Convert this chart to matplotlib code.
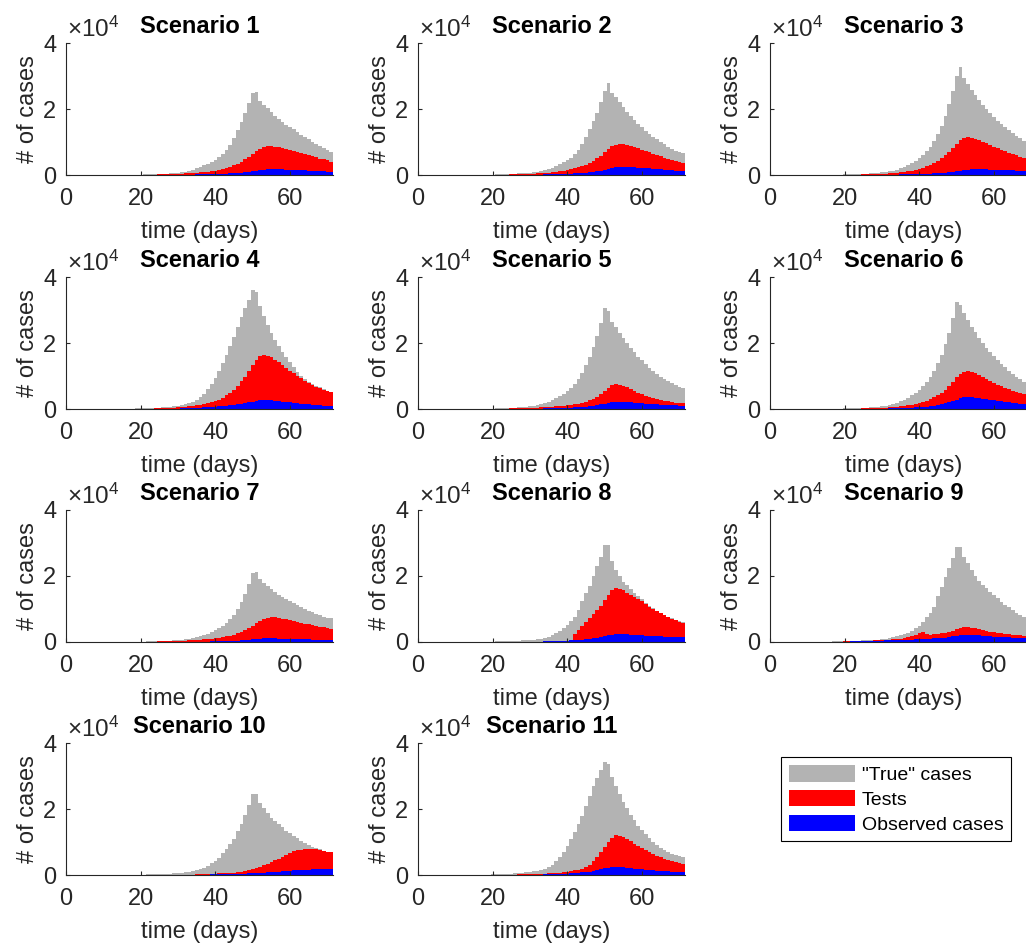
import matplotlib.pyplot as plt
from matplotlib.patches import Patch

# daily counts per scenario, in thousands of cases (axis shows x10^4)
days = list(range(1, 72))

true_1 = [0.01, 0.01, 0.01, 0.02, 0.02, 0.02, 0.03, 0.03, 0.03, 0.04,
          0.04, 0.05, 0.05, 0.06, 0.07, 0.08, 0.09, 0.10, 0.12, 0.14,
          0.17, 0.20, 0.23, 0.27, 0.32, 0.37, 0.43, 0.50, 0.60, 0.70,
          0.85, 1.00, 1.30, 1.60, 2.00, 2.40, 2.90, 3.40, 3.90, 4.60,
          5.40, 6.40, 7.60, 9.20, 11.2, 13.5, 16.0, 18.7, 21.8, 25.0,
          25.3, 22.5, 21.2, 20.2, 19.2, 18.0, 16.9, 16.0, 15.3, 14.6,
          13.8, 12.9, 12.1, 11.4, 10.8, 10.1, 9.40, 8.80, 8.10, 7.60,
          7.10]
tests_1 = [0.01, 0.01, 0.01, 0.01, 0.01, 0.01, 0.02, 0.02, 0.02, 0.02,
           0.03, 0.03, 0.03, 0.04, 0.04, 0.05, 0.05, 0.06, 0.07, 0.08,
           0.09, 0.10, 0.12, 0.14, 0.16, 0.19, 0.22, 0.26, 0.30, 0.35,
           0.41, 0.48, 0.55, 0.62, 0.70, 0.80, 0.90, 1.00, 1.15, 1.35,
           1.60, 1.85, 2.15, 2.50, 2.90, 3.40, 4.00, 4.70, 5.50, 6.40,
           7.30, 8.00, 8.50, 8.70, 8.70, 8.60, 8.40, 8.10, 7.80, 7.50,
           7.20, 6.90, 6.60, 6.30, 6.00, 5.70, 5.40, 5.00, 4.70, 4.40,
           4.00]
obs_1 = [0.00, 0.00, 0.00, 0.00, 0.01, 0.01, 0.01, 0.01, 0.01, 0.01,
         0.01, 0.01, 0.01, 0.01, 0.02, 0.02, 0.02, 0.02, 0.02, 0.03,
         0.03, 0.03, 0.04, 0.04, 0.05, 0.05, 0.06, 0.07, 0.08, 0.09,
         0.10, 0.11, 0.13, 0.14, 0.16, 0.18, 0.20, 0.23, 0.26, 0.30,
         0.34, 0.38, 0.43, 0.49, 0.56, 0.64, 0.74, 0.86, 1.00, 1.16,
         1.32, 1.50, 1.65, 1.75, 1.80, 1.78, 1.74, 1.70, 1.65, 1.60,
         1.55, 1.50, 1.45, 1.40, 1.35, 1.30, 1.24, 1.18, 1.12, 1.06,
         1.00]

true_2 = [0.01, 0.01, 0.01, 0.02, 0.02, 0.02, 0.03, 0.03, 0.04, 0.04,
          0.05, 0.05, 0.06, 0.07, 0.08, 0.09, 0.10, 0.11, 0.13, 0.15,
          0.18, 0.21, 0.25, 0.29, 0.34, 0.40, 0.46, 0.54, 0.63, 0.74,
          0.88, 1.03, 1.25, 1.50, 1.85, 2.25, 2.70, 3.20, 3.80, 4.50,
          5.30, 6.30, 7.50, 9.50, 11.6, 14.0, 16.4, 18.8, 22.0, 25.5,
          27.9, 25.0, 23.6, 22.0, 20.5, 19.2, 18.0, 16.8, 15.6, 14.4,
          13.4, 12.4, 11.6, 10.8, 10.0, 9.30, 8.60, 8.00, 7.40, 7.00,
          6.60]
tests_2 = [0.01, 0.01, 0.01, 0.01, 0.01, 0.01, 0.02, 0.02, 0.02, 0.02,
           0.03, 0.03, 0.03, 0.04, 0.04, 0.05, 0.05, 0.06, 0.07, 0.08,
           0.09, 0.10, 0.12, 0.14, 0.16, 0.19, 0.22, 0.26, 0.30, 0.36,
           0.43, 0.50, 0.58, 0.66, 0.75, 0.86, 0.97, 1.08, 1.24, 1.46,
           1.73, 2.00, 2.30, 2.70, 3.10, 3.70, 4.30, 5.10, 5.90, 6.90,
           7.90, 8.70, 9.20, 9.40, 9.40, 9.20, 8.90, 8.50, 8.10, 7.70,
           7.30, 6.90, 6.50, 6.10, 5.70, 5.30, 4.90, 4.60, 4.30, 3.90,
           3.60]
obs_2 = [0.00, 0.00, 0.00, 0.00, 0.01, 0.01, 0.01, 0.01, 0.01, 0.01,
         0.01, 0.01, 0.01, 0.01, 0.02, 0.02, 0.02, 0.02, 0.02, 0.03,
         0.03, 0.03, 0.04, 0.04, 0.05, 0.05, 0.06, 0.07, 0.08, 0.09,
         0.11, 0.13, 0.15, 0.17, 0.19, 0.22, 0.25, 0.29, 0.33, 0.38,
         0.43, 0.49, 0.56, 0.64, 0.74, 0.86, 1.00, 1.16, 1.35, 1.56,
         1.80, 2.05, 2.30, 2.45, 2.50, 2.46, 2.40, 2.33, 2.25, 2.16,
         2.07, 1.98, 1.89, 1.80, 1.71, 1.62, 1.53, 1.44, 1.36, 1.28,
         1.20]

true_3 = [0.01, 0.01, 0.01, 0.02, 0.02, 0.03, 0.03, 0.03, 0.04, 0.04,
          0.05, 0.06, 0.06, 0.07, 0.08, 0.09, 0.11, 0.12, 0.14, 0.16,
          0.19, 0.22, 0.26, 0.31, 0.36, 0.42, 0.49, 0.57, 0.67, 0.79,
          0.94, 1.12, 1.35, 1.65, 2.00, 2.45, 2.95, 3.55, 4.30, 5.20,
          6.10, 7.20, 8.50, 10.2, 12.4, 15.0, 18.0, 21.5, 25.5, 30.0,
          32.8, 29.5, 27.6, 25.8, 24.2, 22.6, 21.2, 19.9, 18.7, 17.5,
          16.4, 15.4, 14.4, 13.5, 12.7, 11.9, 11.1, 10.4, 9.80, 9.20,
          8.70]
tests_3 = [0.01, 0.01, 0.01, 0.01, 0.01, 0.01, 0.02, 0.02, 0.02, 0.02,
           0.03, 0.03, 0.03, 0.04, 0.04, 0.05, 0.05, 0.06, 0.07, 0.08,
           0.09, 0.10, 0.12, 0.14, 0.16, 0.19, 0.22, 0.26, 0.30, 0.35,
           0.42, 0.50, 0.58, 0.68, 0.80, 0.95, 1.10, 1.30, 1.55, 1.85,
           2.20, 2.60, 3.10, 3.60, 4.30, 5.10, 6.00, 7.10, 8.30, 9.50,
           10.5, 11.1, 11.4, 11.3, 11.0, 10.6, 10.1, 9.60, 9.10, 8.60,
           8.10, 7.60, 7.20, 6.80, 6.40, 6.00, 5.60, 5.20, 4.90, 4.60,
           4.30]
obs_3 = [0.00, 0.00, 0.00, 0.00, 0.01, 0.01, 0.01, 0.01, 0.01, 0.01,
         0.01, 0.01, 0.01, 0.01, 0.02, 0.02, 0.02, 0.02, 0.02, 0.03,
         0.03, 0.03, 0.04, 0.04, 0.05, 0.05, 0.06, 0.07, 0.08, 0.09,
         0.10, 0.11, 0.12, 0.14, 0.16, 0.18, 0.20, 0.22, 0.25, 0.28,
         0.32, 0.36, 0.41, 0.47, 0.54, 0.62, 0.72, 0.84, 0.98, 1.14,
         1.30, 1.48, 1.62, 1.72, 1.76, 1.75, 1.72, 1.68, 1.64, 1.60,
         1.56, 1.52, 1.48, 1.44, 1.40, 1.36, 1.32, 1.28, 1.24, 1.20,
         1.16]

true_4 = [0.01, 0.01, 0.01, 0.02, 0.02, 0.02, 0.03, 0.03, 0.04, 0.04,
          0.05, 0.06, 0.07, 0.08, 0.09, 0.10, 0.12, 0.14, 0.16, 0.19,
          0.22, 0.26, 0.30, 0.35, 0.41, 0.48, 0.60, 0.70, 0.85, 1.00,
          1.20, 1.45, 1.70, 2.10, 2.70, 3.50, 4.60, 6.00, 7.60, 9.50,
          11.6, 13.9, 16.4, 19.0, 21.9, 24.9, 28.0, 30.5, 33.0, 36.2,
          35.4, 31.1, 28.1, 25.5, 23.0, 21.0, 19.1, 17.4, 15.7, 14.1,
          12.7, 11.3, 10.0, 9.00, 8.20, 7.60, 7.00, 6.60, 6.10, 5.60,
          5.20]
tests_4 = [0.01, 0.01, 0.01, 0.01, 0.01, 0.01, 0.02, 0.02, 0.02, 0.02,
           0.03, 0.03, 0.03, 0.04, 0.04, 0.05, 0.05, 0.06, 0.07, 0.08,
           0.10, 0.12, 0.14, 0.17, 0.20, 0.24, 0.29, 0.35, 0.42, 0.50,
           0.58, 0.68, 0.80, 0.93, 1.08, 1.25, 1.45, 1.70, 2.00, 2.40,
           2.85, 3.40, 4.10, 4.90, 5.80, 7.00, 8.40, 9.80, 11.5, 13.4,
           14.9, 16.0, 16.4, 16.2, 15.7, 14.9, 14.1, 13.2, 12.4, 11.6,
           10.8, 10.0, 9.30, 8.60, 7.90, 7.30, 6.80, 6.30, 5.90, 5.50,
           5.10]
obs_4 = [0.00, 0.00, 0.00, 0.01, 0.01, 0.01, 0.01, 0.01, 0.01, 0.01,
         0.01, 0.02, 0.02, 0.02, 0.02, 0.03, 0.03, 0.03, 0.04, 0.04,
         0.05, 0.05, 0.06, 0.07, 0.08, 0.09, 0.10, 0.12, 0.13, 0.15,
         0.18, 0.21, 0.25, 0.29, 0.34, 0.40, 0.46, 0.53, 0.60, 0.68,
         0.77, 0.87, 0.98, 1.10, 1.23, 1.38, 1.55, 1.75, 1.98, 2.22,
         2.45, 2.62, 2.70, 2.68, 2.60, 2.50, 2.38, 2.25, 2.12, 1.98,
         1.85, 1.72, 1.60, 1.49, 1.38, 1.28, 1.19, 1.10, 1.03, 0.96,
         0.90]

true_5 = [0.01, 0.01, 0.01, 0.02, 0.02, 0.02, 0.03, 0.03, 0.04, 0.04,
          0.05, 0.05, 0.06, 0.07, 0.08, 0.09, 0.10, 0.12, 0.13, 0.15,
          0.18, 0.21, 0.25, 0.29, 0.34, 0.40, 0.47, 0.55, 0.66, 0.79,
          0.95, 1.15, 1.45, 1.80, 2.20, 2.70, 3.25, 3.90, 4.60, 5.50,
          6.50, 7.70, 9.10, 10.9, 13.2, 15.8, 18.8, 22.2, 26.0, 30.5,
          29.6, 26.5, 24.8, 23.0, 21.4, 19.9, 18.5, 17.2, 15.9, 14.7,
          13.6, 12.5, 11.5, 10.6, 9.80, 9.10, 8.40, 7.80, 7.20, 6.70,
          6.30]
tests_5 = [0.01, 0.01, 0.01, 0.01, 0.01, 0.01, 0.02, 0.02, 0.02, 0.02,
           0.03, 0.03, 0.03, 0.04, 0.04, 0.05, 0.05, 0.06, 0.07, 0.08,
           0.09, 0.10, 0.12, 0.14, 0.16, 0.19, 0.22, 0.26, 0.30, 0.35,
           0.40, 0.45, 0.50, 0.56, 0.62, 0.70, 0.78, 0.88, 1.00, 1.14,
           1.30, 1.45, 1.65, 1.90, 2.20, 2.60, 3.10, 3.70, 4.50, 5.60,
           6.50, 7.20, 7.50, 7.40, 7.05, 6.60, 6.10, 5.55, 5.00, 4.50,
           4.05, 3.65, 3.30, 3.00, 2.75, 2.50, 2.30, 2.10, 1.95, 1.80,
           1.70]
obs_5 = [0.00, 0.00, 0.00, 0.00, 0.01, 0.01, 0.01, 0.01, 0.01, 0.01,
         0.01, 0.01, 0.01, 0.01, 0.02, 0.02, 0.02, 0.02, 0.02, 0.03,
         0.03, 0.03, 0.04, 0.04, 0.05, 0.05, 0.06, 0.07, 0.08, 0.09,
         0.10, 0.12, 0.14, 0.16, 0.18, 0.21, 0.24, 0.28, 0.32, 0.37,
         0.42, 0.48, 0.55, 0.63, 0.73, 0.85, 1.00, 1.18, 1.40, 1.65,
         1.90, 2.10, 2.20, 2.18, 2.12, 2.05, 1.98, 1.90, 1.82, 1.74,
         1.66, 1.58, 1.50, 1.43, 1.36, 1.29, 1.23, 1.17, 1.11, 1.05,
         1.00]

true_6 = [0.01, 0.01, 0.01, 0.02, 0.02, 0.02, 0.03, 0.03, 0.04, 0.04,
          0.05, 0.05, 0.06, 0.07, 0.08, 0.09, 0.10, 0.12, 0.14, 0.16,
          0.19, 0.22, 0.26, 0.31, 0.36, 0.42, 0.49, 0.58, 0.70, 0.83,
          1.00, 1.20, 1.50, 1.85, 2.30, 2.80, 3.40, 4.10, 4.90, 5.80,
          6.90, 8.10, 9.60, 11.5, 13.8, 16.5, 19.6, 23.0, 27.5, 32.5,
          31.5, 29.0, 27.0, 25.0, 23.2, 21.5, 20.0, 18.6, 17.2, 16.0,
          14.8, 13.7, 12.6, 11.6, 10.7, 9.80, 9.00, 8.20, 7.60, 7.00,
          6.50]
tests_6 = [0.01, 0.01, 0.01, 0.01, 0.01, 0.01, 0.02, 0.02, 0.02, 0.02,
           0.03, 0.03, 0.03, 0.04, 0.04, 0.05, 0.05, 0.06, 0.07, 0.08,
           0.09, 0.10, 0.12, 0.14, 0.16, 0.19, 0.22, 0.26, 0.30, 0.37,
           0.45, 0.52, 0.60, 0.70, 0.82, 0.96, 1.12, 1.30, 1.52, 1.80,
           2.10, 2.50, 2.95, 3.50, 4.10, 4.90, 5.80, 6.90, 8.20, 9.60,
           10.6, 11.2, 11.4, 11.2, 10.8, 10.3, 9.70, 9.10, 8.50, 7.90,
           7.40, 6.90, 6.40, 5.95, 5.50, 5.10, 4.75, 4.40, 4.10, 3.80,
           3.50]
obs_6 = [0.00, 0.00, 0.00, 0.00, 0.01, 0.01, 0.01, 0.01, 0.01, 0.01,
         0.01, 0.01, 0.01, 0.01, 0.02, 0.02, 0.02, 0.02, 0.02, 0.03,
         0.03, 0.04, 0.04, 0.05, 0.06, 0.07, 0.08, 0.09, 0.10, 0.12,
         0.14, 0.16, 0.19, 0.22, 0.25, 0.29, 0.34, 0.40, 0.47, 0.55,
         0.64, 0.75, 0.88, 1.03, 1.20, 1.42, 1.68, 2.00, 2.40, 2.85,
         3.25, 3.50, 3.60, 3.55, 3.42, 3.28, 3.12, 2.96, 2.80, 2.64,
         2.48, 2.33, 2.18, 2.04, 1.90, 1.77, 1.65, 1.54, 1.44, 1.35,
         1.26]

true_7 = [0.01, 0.01, 0.01, 0.01, 0.02, 0.02, 0.02, 0.03, 0.03, 0.03,
          0.04, 0.04, 0.05, 0.05, 0.06, 0.07, 0.08, 0.09, 0.10, 0.12,
          0.14, 0.16, 0.19, 0.22, 0.26, 0.30, 0.35, 0.41, 0.49, 0.58,
          0.70, 0.82, 0.98, 1.18, 1.42, 1.70, 2.05, 2.45, 2.95, 3.50,
          4.20, 5.00, 5.90, 7.00, 8.30, 10.0, 12.2, 14.6, 17.5, 21.0,
          21.2, 19.0, 17.9, 16.9, 16.0, 15.1, 14.3, 13.6, 12.9, 12.3,
          11.7, 11.1, 10.5, 10.0, 9.50, 9.00, 8.50, 8.10, 7.70, 7.40,
          7.20]
tests_7 = [0.01, 0.01, 0.01, 0.01, 0.01, 0.01, 0.02, 0.02, 0.02, 0.02,
           0.03, 0.03, 0.03, 0.04, 0.04, 0.05, 0.05, 0.06, 0.07, 0.08,
           0.09, 0.10, 0.12, 0.14, 0.16, 0.19, 0.22, 0.26, 0.30, 0.34,
           0.38, 0.42, 0.47, 0.52, 0.59, 0.67, 0.76, 0.86, 0.98, 1.12,
           1.28, 1.46, 1.67, 1.92, 2.22, 2.58, 3.00, 3.55, 4.20, 4.95,
           5.70, 6.40, 6.95, 7.30, 7.50, 7.45, 7.30, 7.10, 6.85, 6.60,
           6.35, 6.10, 5.85, 5.60, 5.35, 5.10, 4.85, 4.60, 4.40, 4.20,
           4.00]
obs_7 = [0.00, 0.00, 0.00, 0.00, 0.01, 0.01, 0.01, 0.01, 0.01, 0.01,
         0.01, 0.01, 0.01, 0.01, 0.01, 0.01, 0.01, 0.01, 0.02, 0.02,
         0.02, 0.02, 0.02, 0.03, 0.03, 0.03, 0.04, 0.04, 0.05, 0.05,
         0.06, 0.07, 0.08, 0.09, 0.10, 0.11, 0.12, 0.14, 0.16, 0.18,
         0.20, 0.23, 0.26, 0.30, 0.35, 0.41, 0.48, 0.56, 0.66, 0.78,
         0.90, 1.00, 1.07, 1.10, 1.10, 1.08, 1.05, 1.02, 0.99, 0.96,
         0.93, 0.89, 0.86, 0.82, 0.79, 0.75, 0.72, 0.69, 0.66, 0.63,
         0.60]

true_8 = [0.01, 0.01, 0.01, 0.02, 0.02, 0.02, 0.03, 0.03, 0.03, 0.04,
          0.04, 0.05, 0.06, 0.06, 0.07, 0.08, 0.09, 0.11, 0.13, 0.15,
          0.18, 0.21, 0.25, 0.29, 0.33, 0.38, 0.43, 0.49, 0.55, 0.62,
          0.72, 0.85, 1.00, 1.20, 1.60, 2.10, 2.70, 3.30, 4.20, 5.20,
          6.50, 7.70, 9.70, 12.3, 14.8, 17.0, 20.0, 23.1, 25.9, 29.5,
          29.5, 24.4, 21.9, 20.0, 18.3, 17.3, 16.0, 14.8, 13.8, 13.0,
          11.8, 10.9, 10.2, 9.50, 8.90, 8.20, 7.70, 7.20, 6.70, 6.40,
          6.20]
tests_8 = [0.00, 0.00, 0.00, 0.00, 0.01, 0.01, 0.01, 0.01, 0.01, 0.01,
           0.01, 0.01, 0.01, 0.01, 0.02, 0.02, 0.02, 0.02, 0.02, 0.03,
           0.03, 0.03, 0.04, 0.04, 0.05, 0.05, 0.06, 0.07, 0.08, 0.09,
           0.10, 0.12, 0.14, 0.16, 0.18, 0.21, 0.25, 0.29, 0.34, 0.40,
           0.47, 2.50, 3.50, 5.00, 6.00, 7.20, 8.50, 9.70, 11.0, 12.8,
           14.3, 15.8, 16.3, 16.2, 15.8, 15.0, 14.3, 13.6, 12.9, 12.3,
           11.5, 10.7, 10.0, 9.30, 8.70, 8.10, 7.55, 7.05, 6.55, 6.20,
           5.90]
obs_8 = [0.00, 0.00, 0.00, 0.00, 0.01, 0.01, 0.01, 0.01, 0.01, 0.01,
         0.01, 0.01, 0.01, 0.01, 0.02, 0.02, 0.02, 0.02, 0.02, 0.03,
         0.03, 0.03, 0.04, 0.04, 0.05, 0.05, 0.06, 0.07, 0.08, 0.09,
         0.10, 0.12, 0.14, 0.16, 0.18, 0.21, 0.25, 0.29, 0.34, 0.40,
         0.47, 0.55, 0.64, 0.74, 0.85, 0.98, 1.12, 1.30, 1.52, 1.78,
         2.02, 2.22, 2.38, 2.40, 2.35, 2.28, 2.20, 2.12, 2.05, 1.98,
         1.92, 1.86, 1.80, 1.74, 1.68, 1.63, 1.58, 1.53, 1.48, 1.44,
         1.40]

true_9 = [0.01, 0.02, 0.02, 0.02, 0.03, 0.03, 0.04, 0.04, 0.05, 0.06,
          0.07, 0.08, 0.09, 0.10, 0.12, 0.14, 0.16, 0.19, 0.22, 0.26,
          0.30, 0.34, 0.38, 0.43, 0.48, 0.54, 0.60, 0.66, 0.73, 0.80,
          0.95, 1.15, 1.40, 1.70, 2.00, 2.40, 2.80, 3.40, 4.20, 4.90,
          6.20, 7.50, 8.70, 10.5, 13.8, 16.6, 19.7, 22.4, 25.4, 28.8,
          28.8, 25.7, 23.9, 21.9, 20.1, 18.6, 17.3, 16.3, 15.3, 14.2,
          13.2, 12.2, 11.3, 10.5, 9.70, 8.90, 8.30, 7.70, 7.20, 6.70,
          6.30]
tests_9 = [0.01, 0.01, 0.01, 0.02, 0.02, 0.02, 0.03, 0.03, 0.03, 0.04,
           0.05, 0.06, 0.06, 0.07, 0.08, 0.09, 0.10, 0.12, 0.14, 0.17,
           0.20, 0.23, 0.26, 0.29, 0.33, 0.37, 0.41, 0.46, 0.51, 0.57,
           0.63, 0.70, 0.80, 0.92, 1.06, 1.24, 1.45, 1.70, 2.10, 2.60,
           3.10, 2.40, 2.20, 2.30, 2.40, 2.60, 2.80, 3.10, 3.40, 3.80,
           4.20, 4.40, 4.40, 4.30, 4.10, 3.90, 3.60, 3.30, 3.10, 2.90,
           2.75, 2.60, 2.45, 2.30, 2.20, 2.10, 2.00, 1.90, 1.80, 1.70,
           1.65]
obs_9 = [0.00, 0.01, 0.01, 0.01, 0.01, 0.01, 0.02, 0.02, 0.02, 0.02,
         0.03, 0.03, 0.04, 0.04, 0.05, 0.06, 0.07, 0.08, 0.10, 0.12,
         0.14, 0.16, 0.18, 0.20, 0.23, 0.26, 0.29, 0.33, 0.37, 0.42,
         0.46, 0.50, 0.54, 0.58, 0.62, 0.66, 0.70, 0.75, 0.80, 0.86,
         0.92, 0.98, 1.04, 1.08, 1.12, 1.20, 1.32, 1.48, 1.68, 1.88,
         2.05, 2.18, 2.22, 2.18, 2.10, 2.00, 1.90, 1.80, 1.70, 1.62,
         1.55, 1.48, 1.42, 1.37, 1.32, 1.28, 1.24, 1.20, 1.17, 1.14,
         1.12]

true_10 = [0.01, 0.01, 0.01, 0.01, 0.02, 0.02, 0.02, 0.03, 0.03, 0.03,
           0.04, 0.04, 0.05, 0.06, 0.06, 0.07, 0.08, 0.09, 0.11, 0.13,
           0.15, 0.18, 0.21, 0.25, 0.29, 0.33, 0.38, 0.44, 0.50, 0.60,
           0.70, 0.85, 1.00, 1.20, 1.50, 1.80, 2.20, 2.70, 3.50, 4.30,
           5.30, 6.60, 7.90, 9.30, 10.9, 13.2, 15.4, 18.2, 21.3, 24.5,
           24.5, 21.8, 20.3, 18.7, 17.4, 16.4, 15.4, 14.4, 13.4, 12.7,
           11.9, 11.1, 10.3, 9.60, 9.10, 8.60, 8.10, 7.80, 7.40, 7.10,
           6.90]
tests_10 = [0.00, 0.00, 0.00, 0.00, 0.00, 0.01, 0.01, 0.01, 0.01, 0.01,
            0.01, 0.01, 0.01, 0.01, 0.01, 0.01, 0.02, 0.02, 0.02, 0.02,
            0.02, 0.02, 0.03, 0.03, 0.04, 0.04, 0.05, 0.06, 0.07, 0.08,
            0.09, 0.10, 0.12, 0.14, 0.16, 0.19, 0.22, 0.26, 0.30, 0.40,
            0.46, 0.52, 0.58, 0.66, 0.75, 0.88, 1.02, 1.20, 1.45, 1.80,
            2.10, 2.50, 2.90, 3.30, 3.80, 4.40, 5.00, 5.60, 6.20, 6.70,
            7.20, 7.50, 7.70, 7.90, 8.00, 8.00, 7.90, 7.70, 7.35, 7.05,
            6.85]
obs_10 = [0.00, 0.00, 0.00, 0.00, 0.00, 0.00, 0.00, 0.01, 0.01, 0.01,
          0.01, 0.01, 0.01, 0.01, 0.01, 0.01, 0.01, 0.01, 0.01, 0.01,
          0.01, 0.01, 0.01, 0.02, 0.02, 0.02, 0.03, 0.03, 0.04, 0.04,
          0.05, 0.06, 0.07, 0.08, 0.09, 0.10, 0.12, 0.14, 0.16, 0.18,
          0.20, 0.23, 0.26, 0.29, 0.32, 0.36, 0.40, 0.45, 0.50, 0.56,
          0.62, 0.68, 0.75, 0.82, 0.90, 0.98, 1.06, 1.14, 1.22, 1.30,
          1.38, 1.45, 1.52, 1.58, 1.64, 1.70, 1.74, 1.76, 1.76, 1.75,
          1.74]

true_11 = [0.01, 0.01, 0.01, 0.02, 0.02, 0.02, 0.03, 0.03, 0.04, 0.04,
           0.05, 0.05, 0.06, 0.07, 0.08, 0.09, 0.10, 0.12, 0.14, 0.17,
           0.20, 0.24, 0.28, 0.33, 0.39, 0.46, 0.55, 0.65, 0.78, 0.92,
           1.10, 1.30, 1.55, 1.85, 2.40, 3.10, 4.20, 5.40, 7.00, 8.80,
           10.8, 13.0, 15.5, 18.0, 21.0, 24.0, 27.0, 29.5, 31.8, 34.2,
           33.5, 29.8, 27.0, 24.5, 22.2, 20.2, 18.3, 16.6, 15.0, 13.6,
           12.3, 11.1, 10.0, 9.10, 8.30, 7.60, 7.00, 6.50, 6.10, 5.80,
           5.50]
tests_11 = [0.01, 0.01, 0.01, 0.01, 0.01, 0.01, 0.02, 0.02, 0.02, 0.02,
            0.03, 0.03, 0.03, 0.04, 0.04, 0.05, 0.05, 0.06, 0.07, 0.08,
            0.08, 0.09, 0.10, 0.11, 0.12, 0.14, 0.16, 0.18, 0.21, 0.25,
            0.30, 0.34, 0.38, 0.43, 0.49, 0.56, 0.64, 0.74, 0.86, 1.02,
            1.20, 1.40, 1.65, 1.95, 2.35, 3.00, 4.20, 5.60, 7.10, 8.60,
            10.0, 11.2, 12.0, 11.9, 11.5, 10.9, 10.2, 9.50, 8.80, 8.10,
            7.50, 6.90, 6.30, 5.80, 5.35, 4.95, 4.55, 4.20, 3.90, 3.65,
            3.40]
obs_11 = [0.00, 0.00, 0.00, 0.00, 0.01, 0.01, 0.01, 0.01, 0.01, 0.01,
          0.01, 0.01, 0.01, 0.01, 0.02, 0.02, 0.02, 0.02, 0.02, 0.03,
          0.03, 0.03, 0.04, 0.04, 0.05, 0.05, 0.06, 0.07, 0.08, 0.09,
          0.10, 0.12, 0.14, 0.16, 0.19, 0.22, 0.26, 0.30, 0.35, 0.41,
          0.48, 0.56, 0.65, 0.76, 0.89, 1.04, 1.22, 1.44, 1.70, 1.98,
          2.22, 2.36, 2.40, 2.36, 2.28, 2.18, 2.06, 1.94, 1.82, 1.70,
          1.59, 1.48, 1.38, 1.29, 1.21, 1.14, 1.07, 1.01, 0.96, 0.92,
          0.88]

true_cases = [true_1, true_2, true_3, true_4, true_5, true_6,
              true_7, true_8, true_9, true_10, true_11]
tests = [tests_1, tests_2, tests_3, tests_4, tests_5, tests_6,
         tests_7, tests_8, tests_9, tests_10, tests_11]
observed = [obs_1, obs_2, obs_3, obs_4, obs_5, obs_6,
            obs_7, obs_8, obs_9, obs_10, obs_11]

x_ticks = [0, 20, 40, 60]
y_ticks = [0, 20, 40]
y_tick_labels = ["0", "2", "4"]
legend_labels = ['"True" cases', "Tests", "Observed cases"]

plt.rcParams['font.family'] = ['Liberation Sans', 'DejaVu Sans']
plt.rcParams['mathtext.fontset'] = 'custom'
plt.rcParams['mathtext.rm'] = 'Liberation Sans'
plt.rcParams['mathtext.it'] = 'Liberation Sans:italic'

GRAY = '#b3b3b3'
RED = '#ff0000'
BLUE = '#0000ff'
DARK = '#262626'

W, H = 1026, 943
fig = plt.figure(figsize=(W / 100, H / 100), dpi=100)

col_left = [66, 418, 770]
row_top = [43, 277, 510, 743]
ax_w, ax_h = 267, 132

for i in range(11):
    r, c = divmod(i, 3)
    ax = fig.add_axes([col_left[c] / W, 1 - (row_top[r] + ax_h) / H, ax_w / W, ax_h / H])
    ax.bar(days, true_cases[i], width=1.0, color=GRAY, linewidth=0)
    ax.bar(days, tests[i], width=1.0, color=RED, linewidth=0)
    ax.bar(days, observed[i], width=1.0, color=BLUE, linewidth=0)
    ax.set_xlim(0, 71.5)
    ax.set_ylim(0, 40)
    ax.set_xticks(x_ticks)
    ax.set_yticks(y_ticks)
    ax.set_yticklabels(y_tick_labels)
    ax.tick_params(direction='in', length=3, width=0.8, color=DARK,
                   labelcolor=DARK, labelsize=17)
    ax.tick_params(axis='x', pad=9.5)
    ax.tick_params(axis='y', pad=7)
    for s in ['top', 'right']:
        ax.spines[s].set_visible(False)
    for s in ['left', 'bottom']:
        ax.spines[s].set_color(DARK)
        ax.spines[s].set_linewidth(0.8)
    ax.set_xlabel('time (days)', fontsize=17, color=DARK, labelpad=8)
    ax.set_ylabel('# of cases', fontsize=17, color=DARK, labelpad=3)
    ax.set_title(f'Scenario {i + 1}', fontsize=17, fontweight='bold', pad=7.5)
    ax.text(0.005, 1.01, r'$\times10^{4}$', transform=ax.transAxes,
            ha='left', va='bottom', fontsize=17.5, color=DARK)

handles = [Patch(facecolor=GRAY, edgecolor='none'),
           Patch(facecolor=RED, edgecolor='none'),
           Patch(facecolor=BLUE, edgecolor='none')]
leg = fig.legend(handles, legend_labels, loc='upper left',
                 bbox_to_anchor=(781 / W, 1 - 757 / H), fontsize=14,
                 frameon=True, fancybox=False, edgecolor='black',
                 framealpha=1, borderaxespad=0, borderpad=0.4,
                 handlelength=3.4, handleheight=0.95, handletextpad=0.35,
                 labelspacing=0.3)
leg.get_frame().set_linewidth(0.8)

fig.savefig('out.png', dpi=100)
